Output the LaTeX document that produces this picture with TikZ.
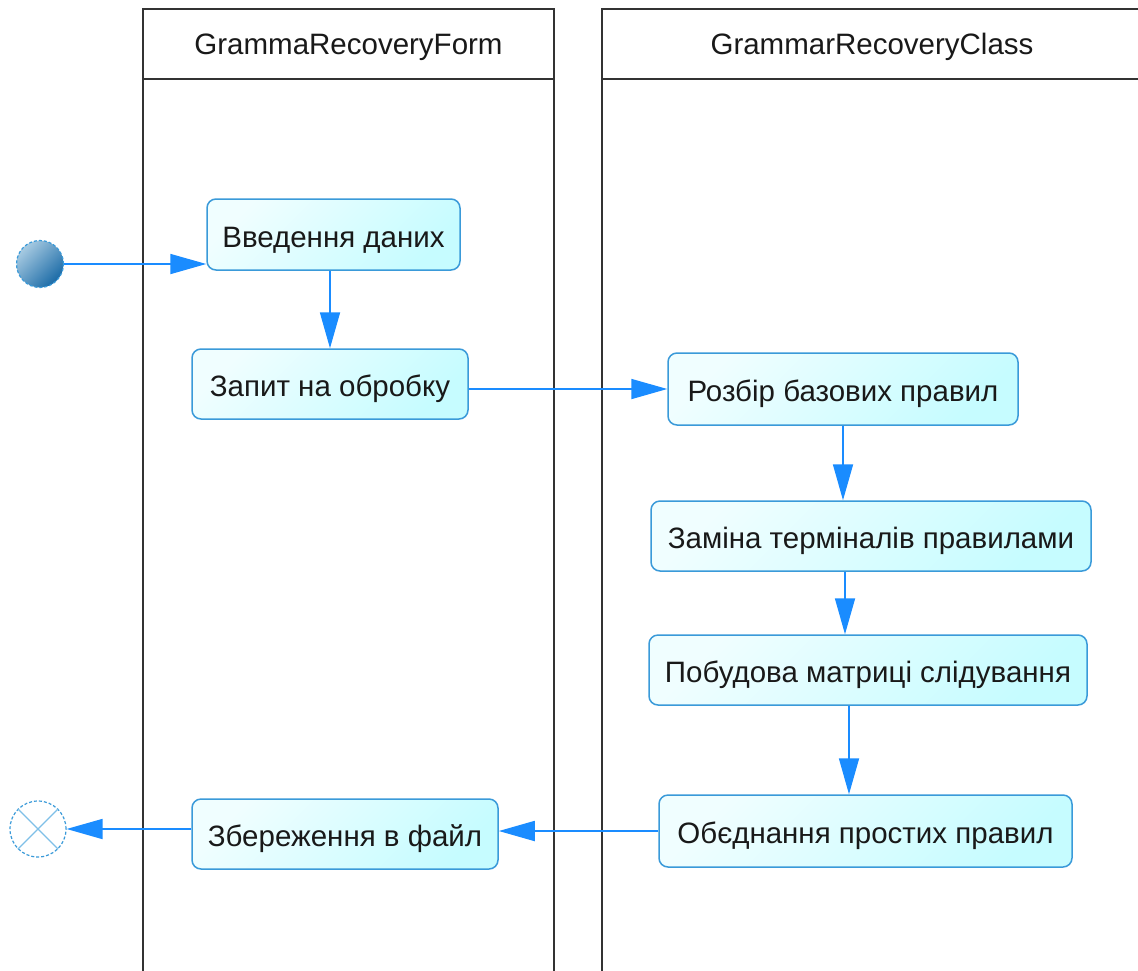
\documentclass[tikz,border=0pt]{standalone}
\usepackage{fontspec}
\setmainfont{Liberation Sans}
\usetikzlibrary{arrows.meta}
\definecolor{lane}{HTML}{333333}
\definecolor{nodeborder}{HTML}{3A9AD9}
\definecolor{arrowc}{HTML}{1A8CFF}
\definecolor{filla}{HTML}{F0FEFF}
\definecolor{fillb}{HTML}{C6FCFF}
\definecolor{inita}{HTML}{A8CBE2}
\definecolor{initb}{HTML}{1A6AA6}
\definecolor{xline}{HTML}{7FC0E8}
\tikzset{
  lanestyle/.style={draw=lane, line width=1.6pt},
  header/.style={font=\fontsize{29.5}{34}\selectfont, text=black!90, anchor=center,
     inner sep=0pt, text height=21pt, text depth=0pt},
  act/.style={draw=nodeborder, line width=1.5pt, rounded corners=9pt,
     top color=filla, bottom color=fillb, shading angle=45,
     font=\fontsize{29.5}{34}\selectfont, text=black!90, inner sep=0pt, align=center,
     text height=25pt, text depth=0pt},
  flow/.style={draw=arrowc, line width=1.8pt, -{Triangle[length=36pt,width=20pt]}},
}
\begin{document}
\begin{tikzpicture}[x=1pt,y=-1pt]
\useasboundingbox (0,0) rectangle (1138,970);
\fill[white] (0,0) rectangle (1138,970);
% swimlanes
\draw[lanestyle] (143,990) -- (143,9) -- (554,9) -- (554,990);
\draw[lanestyle] (143,79) -- (554,79);
\draw[lanestyle] (602,990) -- (602,9) -- (1142,9) -- (1142,990);
\draw[lanestyle] (602,79) -- (1142,79);
\node[header] (h1) at (348.5,44) {GrammaRecoveryForm};
\node[header] (h2) at (872,44) {GrammarRecoveryClass};
% initial and final
\node[circle, minimum size=47pt, inner sep=0pt, draw=nodeborder, line width=1.2pt, densely dashed,
  top color=inita, bottom color=initb, shading angle=45] (init) at (40,264) {};
\node[circle, minimum size=56pt, inner sep=0pt, draw=nodeborder, line width=1.2pt, densely dashed, fill=white] (fin) at (38,829) {};
\draw[xline, line width=1.2pt] (fin.north east) -- (fin.south west);
\draw[xline, line width=1.2pt] (fin.north west) -- (fin.south east);
% activities
\node[act, minimum width=253pt, minimum height=71pt] (n1) at (333.5,234.5) {Введення даних};
\node[act, minimum width=276pt, minimum height=70pt] (n2) at (330,384) {Запит на обробку};
\node[act, minimum width=350pt, minimum height=72pt] (n3) at (843,389) {Розбір базових правил};
\node[act, minimum width=440pt, minimum height=70pt] (n4) at (871,536) {Заміна терміналів правилами};
\node[act, minimum width=438pt, minimum height=70pt] (n5) at (868,670) {Побудова матриці слідування};
\node[act, minimum width=413pt, minimum height=72pt] (n6) at (865.5,831) {Обєднання простих правил};
\node[act, minimum width=306pt, minimum height=70pt] (n7) at (345,834) {Збереження в файл};
% flows
\draw[flow] (init.east) -- (n1.west |- init);
\draw[flow] (n1.south -| n2) -- (n2.north);
\draw[flow] (n2.east |- n3) -- (n3.west);
\draw[flow] (n3.south) -- (n3.south |- n4.north);
\draw[flow] ([xshift=2pt]n3.south |- n4.south) -- ([xshift=2pt]n3.south |- n5.north);
\draw[flow] ([xshift=6pt]n3.south |- n5.south) -- ([xshift=6pt]n3.south |- n6.north);
\draw[flow] (n6.west) -- (n6.west -| n7.east);
\draw[flow] (n7.west |- fin) -- (fin.east);
\end{tikzpicture}
\end{document}
